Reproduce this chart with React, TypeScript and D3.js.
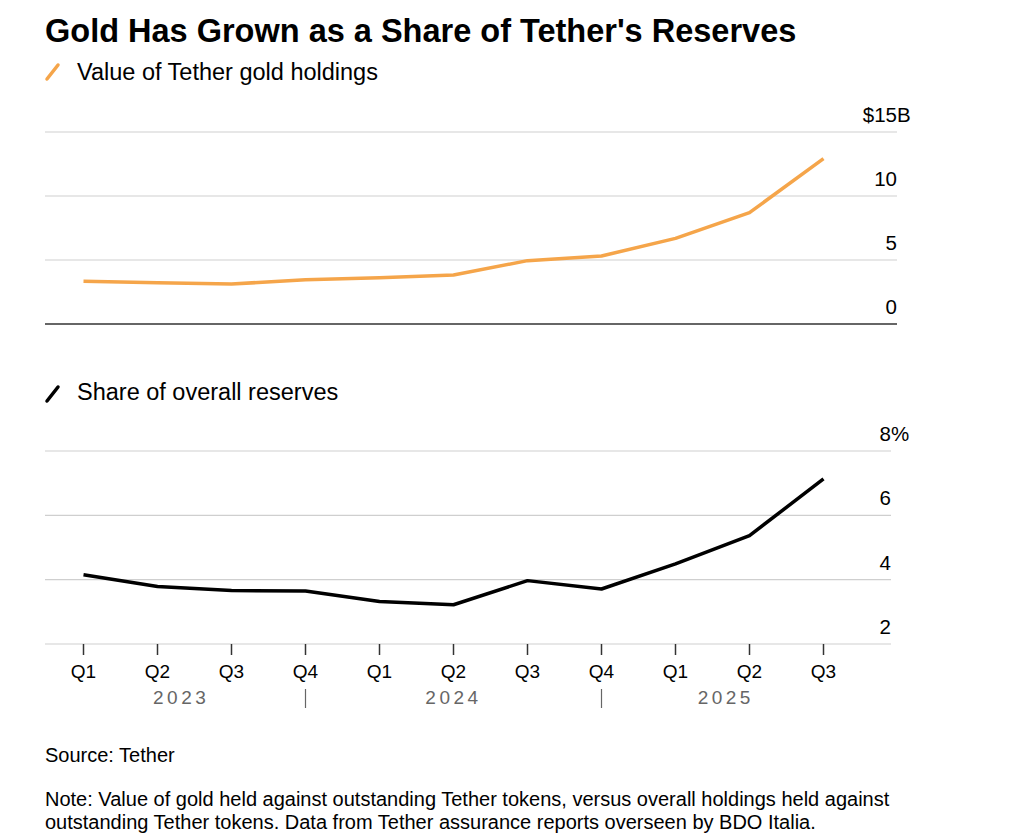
import * as d3 from 'd3';
import React, { useEffect } from 'react';

// quarters from Q1 2023 to Q3 2025
const quarters = ['Q1', 'Q2', 'Q3', 'Q4', 'Q1', 'Q2', 'Q3', 'Q4', 'Q1', 'Q2', 'Q3'];
const goldValue = [3.34, 3.23, 3.12, 3.46, 3.62, 3.83, 4.95, 5.31, 6.69, 8.7, 12.92];
const goldShare = [4.15, 3.79, 3.66, 3.65, 3.32, 3.22, 3.97, 3.71, 4.49, 5.37, 7.13];
const years = ['2023', '2024', '2025'];
const yearCenters = [1.32, 5, 8.68];
const yearDividers = [3, 7];
const valueTicks = [0, 5, 10, 15];
const shareTicks = [2, 4, 6, 8];

const ORANGE = '#f5a54a';
const FONT = "'Liberation Sans', Arial, Helvetica, sans-serif";

const W = 1024;
const H = 840;
const gridLeft = 45;

const x = d3.scaleLinear().domain([0, quarters.length - 1]).range([83.5, 823.5]);
const yTop = d3.scaleLinear().domain([0, 15]).range([324, 132]);
const yBot = d3.scaleLinear().domain([2, 8]).range([644, 451]);

const LegendIcon: React.FC<{ x: number; y: number; color: string }> = ({ x: lx, y: ly, color }) => (
  <line x1={lx} y1={ly + 14} x2={lx + 11} y2={ly} stroke={color} strokeWidth={3.5} strokeLinecap="round" />
);

export default function App() {
  useEffect(() => {
    document.body.style.margin = '0';
  }, []);

  const lineTop = d3.line<number>().x((_, i) => x(i)).y(d => yTop(d));
  const lineBot = d3.line<number>().x((_, i) => x(i)).y(d => yBot(d));

  return (
    <svg width={W} height={H} style={{ display: 'block', background: '#fff' }} fontFamily={FONT}>
      <text x={45} y={42} fontSize={32.5} fontWeight="bold" fill="#000">
        Gold Has Grown as a Share of Tether's Reserves
      </text>

      {/* top panel */}
      <LegendIcon x={47} y={65} color={ORANGE} />
      <text x={77} y={80} fontSize={23.5} fill="#000">Value of Tether gold holdings</text>

      {valueTicks.map(t => (
        <g key={`vt${t}`}>
          <line
            x1={gridLeft}
            x2={897}
            y1={yTop(t)}
            y2={yTop(t)}
            stroke={t === 0 ? '#333' : '#cfcfcf'}
            strokeWidth={t === 0 ? 1.5 : 1.2}
          />
          <text x={897} y={yTop(t) - 10} fontSize={20.5} textAnchor="end" fill="#000">
            {t === 15 ? '$15' : t}
          </text>
          {t === 15 && (
            <text x={897} y={yTop(t) - 10} fontSize={20.5} fill="#000">B</text>
          )}
        </g>
      ))}
      <path d={lineTop(goldValue) || ''} fill="none" stroke={ORANGE} strokeWidth={3.5} strokeLinejoin="round" />

      {/* bottom panel */}
      <LegendIcon x={47} y={387} color="#000" />
      <text x={77} y={400} fontSize={23.5} fill="#000">Share of overall reserves</text>

      {shareTicks.map(t => (
        <g key={`st${t}`}>
          <line x1={gridLeft} x2={891} y1={yBot(t)} y2={yBot(t)} stroke="#cfcfcf" strokeWidth={1.2} />
          <text x={891} y={yBot(t) - 10} fontSize={20.5} textAnchor="end" fill="#000">{t}</text>
          {t === 8 && (
            <text x={891} y={yBot(t) - 10} fontSize={20.5} fill="#000">%</text>
          )}
        </g>
      ))}
      <path d={lineBot(goldShare) || ''} fill="none" stroke="#000" strokeWidth={3.5} strokeLinejoin="round" />

      {/* x axis */}
      {quarters.map((q, i) => (
        <g key={`q${i}`}>
          <line x1={x(i)} x2={x(i)} y1={yBot(2)} y2={yBot(2) + 11} stroke="#333" strokeWidth={1.5} />
          <text x={x(i)} y={678} fontSize={19} textAnchor="middle" fill="#000">{q}</text>
        </g>
      ))}
      {years.map((yr, i) => (
        <text key={yr} x={x(yearCenters[i])} y={704} fontSize={19} textAnchor="middle" fill="#666" letterSpacing={3.5}>
          {yr}
        </text>
      ))}
      {yearDividers.map(d => (
        <line key={`yd${d}`} x1={x(d)} x2={x(d)} y1={689} y2={708} stroke="#666" strokeWidth={1.2} />
      ))}

      {/* footer */}
      <text x={45} y={762} fontSize={20} fill="#000">Source: Tether</text>
      <text x={45} y={806} fontSize={20} fill="#000">
        Note: Value of gold held against outstanding Tether tokens, versus overall holdings held against
      </text>
      <text x={45} y={829} fontSize={20} fill="#000">
        outstanding Tether tokens. Data from Tether assurance reports overseen by BDO Italia.
      </text>
    </svg>
  );
}
